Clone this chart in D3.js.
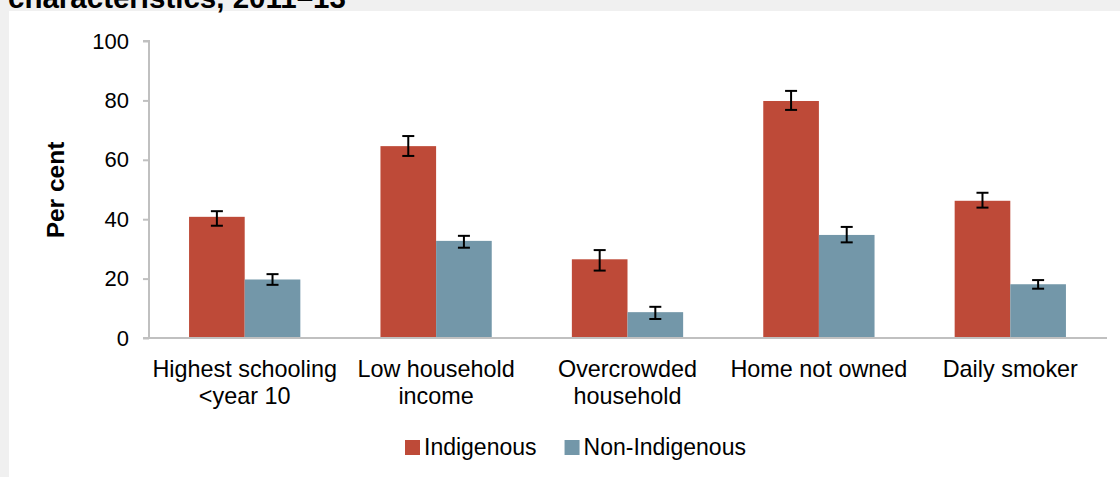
<!DOCTYPE html>
<html>
<head>
<meta charset="utf-8">
<script src="https://cdn.jsdelivr.net/npm/d3@7"></script>
<style>
  html, body { margin: 0; padding: 0; background: #f0f0f0; }
  svg { display: block; font-family: "Liberation Sans", Arial, sans-serif; }
</style>
</head>
<body>
<svg id="chart" width="1120" height="477"></svg>
<script>
const categories = [["Highest schooling", "<year 10"], ["Low household", "income"], ["Overcrowded", "household"], ["Home not owned"], ["Daily smoker"]];
const series = ["Indigenous", "Non-Indigenous"];
const indigenous = [40.8, 64.6, 26.5, 79.8, 46.2];
const indigenousLow = [37.8, 61.3, 22.7, 76.8, 43.9];
const indigenousHigh = [42.7, 68.0, 29.6, 83.2, 48.9];
const nonIndigenous = [19.7, 32.7, 8.7, 34.7, 18.1];
const nonIndigenousLow = [17.9, 30.4, 6.4, 32.2, 16.6];
const nonIndigenousHigh = [21.5, 34.4, 10.5, 37.4, 19.5];
const yTicks = [0, 20, 40, 60, 80, 100];
const colors = ["#be4a38", "#7397a9"];

const svg = d3.select("#chart");
// panel
svg.append("rect").attr("x", 0).attr("y", 0).attr("width", 1120).attr("height", 477).attr("fill", "#f0f0f0");
svg.append("rect").attr("x", 9).attr("y", 11).attr("width", 1111).attr("height", 466).attr("fill", "#ffffff");
// title (partly above the visible area, as in the reference)
svg.append("text").attr("x", 8).attr("y", 8).attr("font-weight", "bold").attr("font-size", 29.5)
  .attr("fill", "#000").text("characteristics, 2011–13");

const catKeys = categories.map(c => c.join(" "));
const x0 = d3.scaleBand().domain(catKeys).range([149, 1106]).padding(0);
const x1 = d3.scaleBand().domain(series).range([0, x0.bandwidth()]).paddingInner(0).paddingOuter(0.72);
const y = d3.scaleLinear().domain([0, 100]).range([338, 41]);

// y axis
const yAxis = svg.append("g").attr("transform", "translate(149,0)")
  .call(d3.axisLeft(y).tickValues(yTicks).tickSize(6).tickPadding(14).tickFormat(d3.format("d")));
yAxis.select(".domain").attr("stroke", "#c0c0c0").attr("stroke-width", 2).attr("d", "M-6," + y(100) + "H0V" + y(0));
yAxis.selectAll(".tick line").attr("stroke", "#c0c0c0").attr("stroke-width", 2);
yAxis.selectAll(".tick text").attr("font-size", 22).attr("fill", "#000").attr("font-family", "Liberation Sans, Arial, sans-serif");

const data = [];
catKeys.forEach((c, i) => {
  data.push({cat: c, s: series[0], v: indigenous[i], lo: indigenousLow[i], hi: indigenousHigh[i]});
  data.push({cat: c, s: series[1], v: nonIndigenous[i], lo: nonIndigenousLow[i], hi: nonIndigenousHigh[i]});
});

svg.append("g").selectAll("rect").data(data).join("rect")
  .attr("x", d => x0(d.cat) + x1(d.s))
  .attr("y", d => y(d.v))
  .attr("width", x1.bandwidth())
  .attr("height", d => y(0) - y(d.v))
  .attr("fill", d => colors[series.indexOf(d.s)]);

// x axis line
svg.append("line").attr("x1", 143).attr("x2", 1107).attr("y1", y(0)).attr("y2", y(0))
  .attr("stroke", "#c0c0c0").attr("stroke-width", 2);

// error bars
const eb = svg.append("g").attr("stroke", "#000").attr("stroke-width", 2);
data.forEach(d => {
  const cx = x0(d.cat) + x1(d.s) + x1.bandwidth() / 2;
  eb.append("line").attr("x1", cx).attr("x2", cx).attr("y1", y(d.hi)).attr("y2", y(d.lo));
  eb.append("line").attr("x1", cx - 6).attr("x2", cx + 6).attr("y1", y(d.hi)).attr("y2", y(d.hi));
  eb.append("line").attr("x1", cx - 6).attr("x2", cx + 6).attr("y1", y(d.lo)).attr("y2", y(d.lo));
});

// category labels
categories.forEach((c, i) => {
  const t = svg.append("text").attr("text-anchor", "middle").attr("font-size", 23.4).attr("fill", "#000");
  c.forEach((line, j) => {
    t.append("tspan").attr("x", x0(catKeys[i]) + x0.bandwidth() / 2).attr("y", 377 + j * 27).text(line);
  });
});

// y title
svg.append("text").attr("transform", "translate(64,190) rotate(-90)").attr("text-anchor", "middle")
  .attr("font-weight", "bold").attr("font-size", 24.5).attr("fill", "#000").text("Per cent");

// legend
const leg = svg.append("g");
let lx = 0;
series.forEach((s, i) => {
  const g = leg.append("g").attr("transform", `translate(${lx},0)`);
  g.append("rect").attr("x", 0).attr("y", -15).attr("width", 15).attr("height", 15).attr("fill", colors[i]);
  const t = g.append("text").attr("x", 19).attr("y", 0).attr("font-size", 23).attr("fill", "#000").text(s);
  lx += 19 + t.node().getComputedTextLength() + 28;
});
const legW = lx - 28;
leg.attr("transform", `translate(${405},455)`);
</script>
</body>
</html>
